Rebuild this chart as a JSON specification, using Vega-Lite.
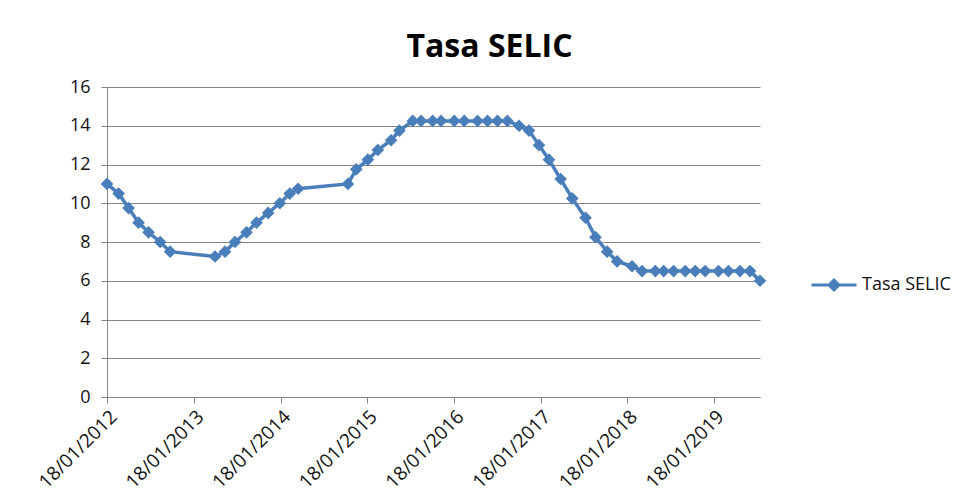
{
  "$schema": "https://vega.github.io/schema/vega-lite/v6.json",
  "width": 653,
  "height": 310,
  "autosize": {"type": "none"},
  "padding": {"left": 107, "top": 87, "right": 199, "bottom": 99},
  "background": "white",
  "title": {
    "text": "Tasa SELIC",
    "font": "Open Sans",
    "fontSize": 32,
    "fontWeight": "bold",
    "color": "#000000",
    "anchor": "middle",
    "frame": "group",
    "dx": 56,
    "offset": 14
  },
  "config": {
    "view": {"stroke": null},
    "font": "Open Sans"
  },
  "data": {
    "values": [
      {"fecha": "2012-01-18", "tasa": 11.0},
      {"fecha": "2012-03-07", "tasa": 10.5},
      {"fecha": "2012-04-18", "tasa": 9.75},
      {"fecha": "2012-05-30", "tasa": 9.0},
      {"fecha": "2012-07-11", "tasa": 8.5},
      {"fecha": "2012-08-29", "tasa": 8.0},
      {"fecha": "2012-10-10", "tasa": 7.5},
      {"fecha": "2013-04-17", "tasa": 7.25},
      {"fecha": "2013-05-29", "tasa": 7.5},
      {"fecha": "2013-07-10", "tasa": 8.0},
      {"fecha": "2013-08-28", "tasa": 8.5},
      {"fecha": "2013-10-09", "tasa": 9.0},
      {"fecha": "2013-11-27", "tasa": 9.5},
      {"fecha": "2014-01-15", "tasa": 10.0},
      {"fecha": "2014-02-26", "tasa": 10.5},
      {"fecha": "2014-04-02", "tasa": 10.75},
      {"fecha": "2014-10-29", "tasa": 11.0},
      {"fecha": "2014-12-03", "tasa": 11.75},
      {"fecha": "2015-01-21", "tasa": 12.25},
      {"fecha": "2015-03-04", "tasa": 12.75},
      {"fecha": "2015-04-29", "tasa": 13.25},
      {"fecha": "2015-06-03", "tasa": 13.75},
      {"fecha": "2015-07-29", "tasa": 14.25},
      {"fecha": "2015-09-02", "tasa": 14.25},
      {"fecha": "2015-10-21", "tasa": 14.25},
      {"fecha": "2015-11-25", "tasa": 14.25},
      {"fecha": "2016-01-20", "tasa": 14.25},
      {"fecha": "2016-03-02", "tasa": 14.25},
      {"fecha": "2016-04-27", "tasa": 14.25},
      {"fecha": "2016-06-08", "tasa": 14.25},
      {"fecha": "2016-07-20", "tasa": 14.25},
      {"fecha": "2016-08-31", "tasa": 14.25},
      {"fecha": "2016-10-19", "tasa": 14.0},
      {"fecha": "2016-11-30", "tasa": 13.75},
      {"fecha": "2017-01-11", "tasa": 13.0},
      {"fecha": "2017-02-22", "tasa": 12.25},
      {"fecha": "2017-04-12", "tasa": 11.25},
      {"fecha": "2017-05-31", "tasa": 10.25},
      {"fecha": "2017-07-26", "tasa": 9.25},
      {"fecha": "2017-09-06", "tasa": 8.25},
      {"fecha": "2017-10-25", "tasa": 7.5},
      {"fecha": "2017-12-06", "tasa": 7.0},
      {"fecha": "2018-02-07", "tasa": 6.75},
      {"fecha": "2018-03-21", "tasa": 6.5},
      {"fecha": "2018-05-16", "tasa": 6.5},
      {"fecha": "2018-06-20", "tasa": 6.5},
      {"fecha": "2018-08-01", "tasa": 6.5},
      {"fecha": "2018-09-19", "tasa": 6.5},
      {"fecha": "2018-10-31", "tasa": 6.5},
      {"fecha": "2018-12-12", "tasa": 6.5},
      {"fecha": "2019-02-06", "tasa": 6.5},
      {"fecha": "2019-03-20", "tasa": 6.5},
      {"fecha": "2019-05-08", "tasa": 6.5},
      {"fecha": "2019-06-19", "tasa": 6.5},
      {"fecha": "2019-07-31", "tasa": 6.0}
    ]
  },
  "mark": {
    "type": "line",
    "strokeWidth": 3.5,
    "point": {"shape": "diamond", "size": 160, "filled": true, "opacity": 1}
  },
  "encoding": {
    "x": {
      "field": "fecha",
      "type": "temporal",
      "scale": {
        "type": "utc",
        "domain": [
          {"year": 2012, "month": 1, "date": 18, "utc": true},
          {"year": 2019, "month": 7, "date": 31, "utc": true}
        ],
        "nice": false
      },
      "axis": {
        "title": null,
        "values": [
          {"year": 2012, "month": 1, "date": 18, "utc": true},
          {"year": 2013, "month": 1, "date": 18, "utc": true},
          {"year": 2014, "month": 1, "date": 18, "utc": true},
          {"year": 2015, "month": 1, "date": 18, "utc": true},
          {"year": 2016, "month": 1, "date": 18, "utc": true},
          {"year": 2017, "month": 1, "date": 18, "utc": true},
          {"year": 2018, "month": 1, "date": 18, "utc": true},
          {"year": 2019, "month": 1, "date": 18, "utc": true}
        ],
        "labelExpr": "utcFormat(datum.value, '%d/%m/%Y')",
        "labelAngle": -45,
        "labelFont": "Open Sans",
        "labelFontSize": 19,
        "labelColor": "#111111",
        "labelPadding": 4,
        "labelOverlap": false,
        "labelFlush": false,
        "grid": false,
        "domainColor": "#868686",
        "domainWidth": 1,
        "tickColor": "#868686",
        "tickSize": 6
      }
    },
    "y": {
      "field": "tasa",
      "type": "quantitative",
      "scale": {"domain": [0, 16], "nice": false},
      "axis": {
        "title": null,
        "values": [0, 2, 4, 6, 8, 10, 12, 14, 16],
        "labelFont": "Open Sans",
        "labelFontSize": 18,
        "labelColor": "#111111",
        "labelPadding": 11,
        "grid": true,
        "gridColor": "#868686",
        "gridWidth": 1,
        "domainColor": "#868686",
        "tickColor": "#868686",
        "tickSize": 6
      }
    },
    "color": {
      "datum": "Tasa SELIC",
      "type": "nominal",
      "scale": {"range": ["#4A7EBB"]},
      "legend": {
        "title": null,
        "orient": "none",
        "legendX": 703,
        "legendY": 174,
        "symbolType": "M-1,0L1,0M-0.22,0L0,-0.22L0.22,0L0,0.22Z",
        "symbolSize": 2025,
        "symbolStrokeWidth": 3,
        "symbolFillColor": "#4A7EBB",
        "symbolStrokeColor": "#4A7EBB",
        "labelFont": "Open Sans",
        "labelFontSize": 18,
        "labelColor": "#111111",
        "labelOffset": 4,
        "encode": {
          "symbols": {
            "update": {
              "fill": {"value": "#4A7EBB"},
              "stroke": {"value": "#4A7EBB"},
              "opacity": {"value": 1}
            }
          }
        }
      }
    }
  }
}
